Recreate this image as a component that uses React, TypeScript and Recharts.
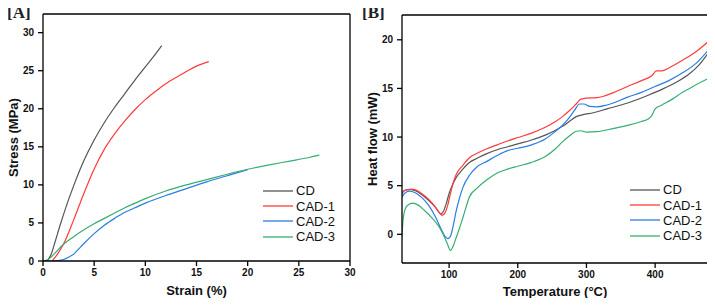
import React from 'react';
import { LineChart, Line, XAxis, YAxis, CartesianGrid } from 'recharts';

const FONT = '"Liberation Sans", Arial, sans-serif';

const seriesNames = ['CD', 'CAD-1', 'CAD-2', 'CAD-3'];
const seriesColors = ['#555555', '#ff3b3b', '#2a7de3', '#36ad72'];

// [A] stress-strain
const cdStrain = [0.4, 0.8, 1.2, 1.6, 2, 3, 4, 5, 6, 7, 8, 9, 10, 11, 11.6];
const cdStress = [0, 0.9, 2.6, 4.4, 6.1, 9.9, 13.2, 15.9, 18.2, 20.2, 22.0, 23.8, 25.5, 27.2, 28.3];

const cad1Strain = [0.9, 1.2, 1.6, 2, 3, 4, 5, 6, 7, 8, 9, 10, 11, 12, 13, 14, 15, 16.2];
const cad1Stress = [0, 0.5, 1.3, 2.2, 5.4, 8.9, 12.1, 14.7, 16.7, 18.4, 19.9, 21.2, 22.3, 23.3, 24.1, 24.9, 25.6, 26.2];

const cad2Strain = [0, 1, 1.5, 2, 2.5, 3, 3.5, 4, 5, 6, 7, 8, 9, 10, 12, 14, 16, 18, 20];
const cad2Stress = [0, 0, 0.05, 0.2, 0.5, 0.9, 1.6, 2.3, 3.6, 4.7, 5.6, 6.4, 7.0, 7.6, 8.6, 9.5, 10.4, 11.2, 12.0];

const cad3Strain = [0, 0.5, 1, 2, 3, 4, 5, 6, 7, 8, 9, 10, 12, 14, 16, 18, 20, 22, 24, 26, 27];
const cad3Stress = [0, 0.2, 0.8, 2.2, 3.2, 4.1, 4.9, 5.6, 6.3, 7.0, 7.6, 8.2, 9.2, 10.0, 10.7, 11.4, 12.05, 12.6, 13.1, 13.6, 13.9];

// [B] DSC
const cdTemp = [31, 35, 40, 45, 50, 60, 70, 80, 88, 92, 96, 100, 105, 110, 120, 130, 140, 155, 170, 185, 200, 220, 240, 255, 265, 275, 285, 295, 310, 330, 360, 390, 410, 430, 450, 465, 477];
const cdHeat = [4.2, 4.5, 4.6, 4.6, 4.5, 4.1, 3.5, 2.8, 2.1, 2.4, 3.2, 4.2, 5.1, 5.8, 6.7, 7.4, 7.8, 8.3, 8.7, 9.0, 9.3, 9.7, 10.2, 10.7, 11.1, 11.6, 12.1, 12.3, 12.5, 12.9, 13.5, 14.3, 14.9, 15.6, 16.5, 17.5, 18.6];

const cad1Temp = [31, 35, 40, 45, 50, 60, 70, 80, 86, 90, 94, 98, 102, 106, 110, 120, 130, 140, 155, 170, 185, 200, 220, 240, 255, 265, 275, 285, 292, 300, 315, 325, 340, 360, 380, 395, 402, 410, 420, 440, 460, 477];
const cad1Heat = [4.2, 4.5, 4.6, 4.65, 4.6, 4.2, 3.6, 2.8, 2.2, 1.95, 2.2, 3.0, 4.2, 5.3, 6.1, 7.1, 7.9, 8.3, 8.8, 9.2, 9.6, 9.95, 10.4, 11.0, 11.6, 12.1, 12.7, 13.4, 13.9, 14.0, 14.05, 14.2, 14.6, 15.2, 15.8, 16.3, 16.8, 16.8, 17.1, 17.9, 18.8, 19.8];

const cad2Temp = [31, 35, 42, 50, 60, 70, 80, 88, 94, 98, 102, 106, 110, 115, 120, 130, 140, 155, 170, 185, 200, 220, 240, 255, 265, 275, 283, 290, 296, 305, 315, 330, 360, 380, 400, 420, 440, 460, 477];
const cad2Heat = [3.8, 4.2, 4.45, 4.3, 3.8, 3.0, 1.8, 0.6, -0.2, -0.45, -0.2, 0.9, 2.3, 3.7, 4.8, 6.1, 6.9, 7.5, 8.1, 8.6, 8.85, 9.2, 9.8, 10.6, 11.2, 12.0, 12.8, 13.4, 13.4, 13.15, 13.1, 13.3, 14.1, 14.6, 15.2, 15.8, 16.6, 17.6, 18.9];

const cad3Temp = [31, 33, 36, 40, 47, 55, 65, 75, 85, 92, 97, 102, 106, 110, 115, 120, 130, 140, 155, 170, 185, 200, 220, 240, 255, 265, 275, 285, 292, 300, 315, 340, 360, 380, 390, 395, 400, 410, 425, 440, 455, 477];
const cad3Heat = [-0.5, 1.5, 2.6, 3.0, 3.2, 3.0, 2.4, 1.7, 0.8, -0.1, -0.9, -1.65, -1.2, -0.4, 0.6, 1.7, 3.9, 4.7, 5.6, 6.3, 6.7, 7.0, 7.4, 8.0, 8.8, 9.5, 10.1, 10.6, 10.65, 10.5, 10.55, 10.9, 11.2, 11.6, 11.85, 12.2, 12.9, 13.3, 13.9, 14.6, 15.2, 16.0];

const strainTicks = [0, 5, 10, 15, 20, 25, 30];
const stressTicks = [0, 5, 10, 15, 20, 25, 30];
const tempTicks = [100, 200, 300, 400];
const heatTicks = [0, 5, 10, 15, 20];

const toPoints = (xs: number[], ys: number[]) => xs.map((x, i) => ({ x, y: ys[i] }));

const tensileData = [
  toPoints(cdStrain, cdStress),
  toPoints(cad1Strain, cad1Stress),
  toPoints(cad2Strain, cad2Stress),
  toPoints(cad3Strain, cad3Stress),
];

const dscData = [
  toPoints(cdTemp, cdHeat),
  toPoints(cad1Temp, cad1Heat),
  toPoints(cad2Temp, cad2Heat),
  toPoints(cad3Temp, cad3Heat),
];

const axisLine = { stroke: '#000', strokeWidth: 1.3 };
const tickStyle = { fill: '#111', fontSize: 10, fontWeight: 700, fontFamily: FONT };
const titleStyle = { fill: '#111', fontSize: 13, fontWeight: 700, fontFamily: FONT, textAnchor: 'middle' as const };

function SeriesLegend({ left, top }: { left: number; top: number }) {
  return (
    <div style={{ position: 'absolute', left, top, fontFamily: FONT, fontSize: 13, color: '#111' }}>
      {seriesNames.map((name, i) => (
        <div key={name} style={{ display: 'flex', alignItems: 'center', height: 15.4, lineHeight: '15px' }}>
          <svg width={30} height={4} style={{ marginRight: 3 }}>
            <line x1={0} y1={2} x2={30} y2={2} stroke={seriesColors[i]} strokeWidth={1.3} />
          </svg>
          <span>{name}</span>
        </div>
      ))}
    </div>
  );
}

interface PanelProps {
  left: number;
  tag: string;
  data: { x: number; y: number }[][];
  xDomain: [number, number];
  yDomain: [number, number];
  xTicks: number[];
  yTicks: number[];
  xLabel: string;
  yLabel: string;
  yAxisWidth: number;
  xAxisHeight: number;
  marginTop: number;
  marginRight: number;
  xLabelOffset: number;
  yLabelOffset: number;
  legendLeft: number;
  legendTop: number;
}

function Panel(p: PanelProps) {
  return (
    <div style={{ position: 'absolute', left: p.left, top: 0, width: 360, height: 306 }}>
      <LineChart
        width={360}
        height={306}
        margin={{ top: p.marginTop, right: p.marginRight, bottom: 0, left: 0 }}
      >
        {/* top and right edges of the frame */}
        <CartesianGrid
          horizontalValues={[p.yDomain[1]]}
          verticalValues={[p.xDomain[1]]}
          stroke="#000"
          strokeWidth={1.3}
        />
        <XAxis
          dataKey="x"
          type="number"
          domain={p.xDomain}
          ticks={p.xTicks}
          allowDataOverflow
          height={p.xAxisHeight}
          axisLine={axisLine}
          tickLine={axisLine}
          tickSize={5}
          tickMargin={3}
          tick={tickStyle}
          label={{ value: p.xLabel, position: 'insideBottom', offset: p.xLabelOffset, style: titleStyle }}
        />
        <YAxis
          type="number"
          domain={p.yDomain}
          ticks={p.yTicks}
          allowDataOverflow
          width={p.yAxisWidth}
          axisLine={axisLine}
          tickLine={axisLine}
          tickSize={5}
          tickMargin={4}
          tick={tickStyle}
          label={{ value: p.yLabel, angle: -90, position: 'insideLeft', offset: p.yLabelOffset, style: titleStyle }}
        />
        {p.data.map((pts, i) => (
          <Line
            key={seriesNames[i]}
            data={pts}
            dataKey="y"
            name={seriesNames[i]}
            type="monotone"
            stroke={seriesColors[i]}
            strokeWidth={1.2}
            dot={false}
            activeDot={false}
            isAnimationActive={false}
          />
        ))}
      </LineChart>
      <div
        style={{
          position: 'absolute',
          left: 7,
          top: 4,
          fontFamily: '"Liberation Serif", "Times New Roman", serif',
          fontWeight: 700,
          fontSize: 17,
          lineHeight: 1,
          color: '#222',
        }}
      >
        {p.tag}
      </div>
      <SeriesLegend left={p.legendLeft} top={p.legendTop} />
    </div>
  );
}

export default function App() {
  return (
    <div style={{ position: 'relative', width: 715, height: 306, margin: -8, background: '#fff', overflow: 'hidden' }}>
      <Panel
        left={0}
        tag="[A]"
        data={tensileData}
        xDomain={[0, 30]}
        yDomain={[0, 32.45]}
        xTicks={strainTicks}
        yTicks={stressTicks}
        xLabel="Strain (%)"
        yLabel="Stress (MPa)"
        yAxisWidth={43}
        xAxisHeight={45}
        marginTop={14}
        marginRight={10}
        xLabelOffset={11}
        yLabelOffset={13}
        legendLeft={263}
        legendTop={183}
      />
      <Panel
        left={355}
        tag="[B]"
        data={dscData}
        xDomain={[31.4, 477]}
        yDomain={[-2.95, 22.55]}
        xTicks={tempTicks}
        yTicks={heatTicks}
        xLabel="Temperature (°C)"
        yLabel="Heat flow (mW)"
        yAxisWidth={47}
        xAxisHeight={43}
        marginTop={15}
        marginRight={7}
        xLabelOffset={10}
        yLabelOffset={17}
        legendLeft={275}
        legendTop={182}
      />
    </div>
  );
}
